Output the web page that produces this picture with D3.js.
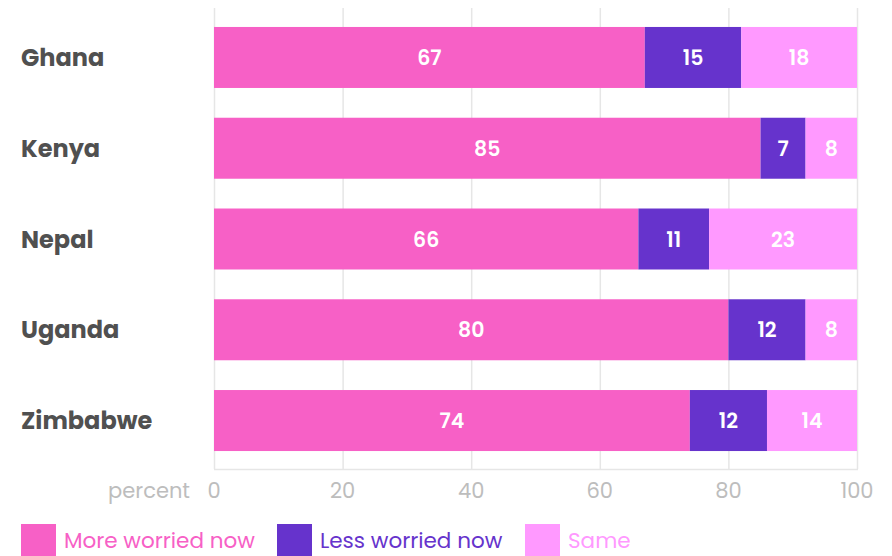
<!DOCTYPE html>
<html><head><meta charset="utf-8">
<script src="https://cdn.jsdelivr.net/npm/d3@7"></script>
<style>
body{margin:0;background:#fff;}
svg{display:block;font-family:Poppins,"Noto Sans","Open Sans",sans-serif;}
</style></head>
<body><svg id="c" width="892" height="556"></svg>
<script>
const countries = ["Ghana","Kenya","Nepal","Uganda","Zimbabwe"];
const seriesNames = ["More worried now","Less worried now","Same"];
const moreWorried = [67,85,66,80,74];
const lessWorried = [15,7,11,12,12];
const same = [18,8,23,8,14];
const tickValues = [0,20,40,60,80,100];
const colors = ["#f760c6","#6633cc","#ff99ff"];

const rows = countries.map((c,i)=>({country:c, v:[moreWorried[i],lessWorried[i],same[i]]}));
const svg = d3.select("#c");
const x = d3.scaleLinear().domain([0,100]).range([214,857]);
const y = d3.scaleBand().domain(countries).range([8,470]).paddingInner(0.328).paddingOuter(0.209);

// grid
svg.append("g").selectAll("line").data(tickValues).join("line")
  .attr("x1",d=>x(d)+0.5).attr("x2",d=>x(d)+0.5).attr("y1",8).attr("y2",469)
  .attr("stroke","#e6e6e6").attr("stroke-width",1.5);
svg.append("line").attr("x1",x(0)).attr("x2",x(100)+1).attr("y1",469.5).attr("y2",469.5)
  .attr("stroke","#e6e6e6").attr("stroke-width",1.5);

// bars
const g = svg.append("g");
rows.forEach(r=>{
  let acc=0;
  r.v.forEach((v,k)=>{
    const x0=acc; acc+=v;
    g.append("rect").attr("x",x(x0)).attr("width",x(acc)-x(x0))
      .attr("y",y(r.country)).attr("height",y.bandwidth()).attr("fill",colors[k]);
    g.append("text").attr("x",(x(x0)+x(acc))/2).attr("y",y(r.country)+y.bandwidth()/2+7.5)
      .attr("text-anchor","middle").attr("fill","#fff").attr("font-size",20.5).attr("font-weight",600)
      .text(v);
  });
});

// country labels
svg.append("g").selectAll("text").data(countries).join("text")
  .attr("x",21).attr("y",d=>y(d)+y.bandwidth()/2+8.5)
  .attr("fill","#505050").attr("font-size",24).attr("font-weight",700).text(d=>d);

// x axis tick labels
svg.append("g").selectAll("text").data(tickValues).join("text")
  .attr("x",d=>x(d)).attr("y",497.5).attr("text-anchor","middle")
  .attr("fill","#bdbdbd").attr("font-size",21).text(d=>d);
svg.append("text").attr("x",190).attr("y",497.5).attr("text-anchor","end")
  .attr("fill","#bdbdbd").attr("font-size",21).text("percent");

// legend
const legX = [21,277,525];
seriesNames.forEach((s,k)=>{
  svg.append("rect").attr("x",legX[k]).attr("y",524).attr("width",35).attr("height",34).attr("fill",colors[k]);
  svg.append("text").attr("x",legX[k]+43).attr("y",547.5).attr("fill",colors[k])
    .attr("font-size",21.5).text(s);
});
</script></body></html>
